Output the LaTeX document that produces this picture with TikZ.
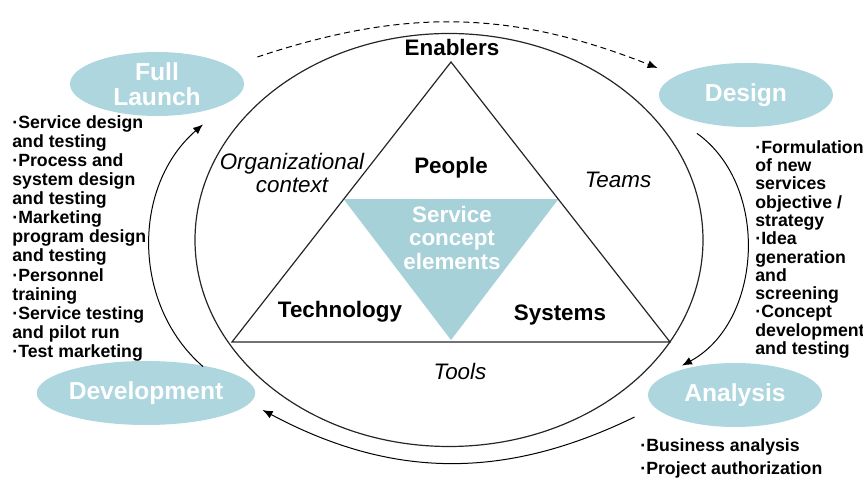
\documentclass[tikz,border=0pt]{standalone}
\usepackage{fontspec}
\setmainfont{Liberation Sans}
\usetikzlibrary{arrows.meta,shapes,positioning,calc}
\definecolor{phaseblue}{RGB}{173,214,222}
\definecolor{conceptblue}{RGB}{166,209,216}

\begin{document}
\begin{tikzpicture}
[x=0.5pt,y=0.5pt,
phase/.style={shape=ellipse,fill=phaseblue,minimum width=87pt,minimum height=32pt,inner sep=0pt,text=white,align=center,font=\fontsize{12.3}{12.5}\selectfont\bfseries},
corner/.style={font=\fontsize{11.2}{13}\selectfont\bfseries},
side/.style={align=center,font=\fontsize{11.2}{11.8}\selectfont\itshape},
steps/.style={align=left,inner sep=0pt,anchor=north west,font=\fontsize{8.85}{9.55}\selectfont\bfseries},
frame/.style={line width=0.6pt,color=black!85},
phasearrow/.style={-{Latex[length=5pt,width=4pt]}, line width=0.5pt}]

\useasboundingbox (0,0) rectangle (863,481);

% triangle of enablers inside the ring
\coordinate (top) at (451,419);
\coordinate (left) at (232,139);
\coordinate (right) at (670,139);
\fill[conceptblue] ($(top)!0.49!(left)$) -- ($(top)!0.49!(right)$) -- ($(left)!0.5!(right)+(0,2)$) -- cycle;
\node (ring) [draw,frame,shape=ellipse,minimum width=254pt,minimum height=206.5pt] at (449,241) {};
\draw[frame] (top) -- (left) -- (right) -- cycle;

\node (enablers) [corner] at (452,433) {Enablers};
\node (people) [corner] at (451,313) {People};
\node (tech) [corner] at (340,169) {Technology};
\node (sys) [corner] at (560,166) {Systems};
\node (org) [side] at (292,308) {Organizational\\context};
\node (teams) [side] at (618,301) {Teams};
\node (tools) [side] at (460,110) {Tools};
\node (concept) [corner,text=white,align=center,font=\fontsize{11.2}{11.75}\selectfont\bfseries] at (452,243) {Service\\concept\\elements};

% development phases
\node (launch) [phase] at (157,397) {Full\\Launch};
\node (design) [phase] at (746,386) {Design};
\node (analysis) [phase] at (735,86) {Analysis};
\node (devel) [phase] at (146,88) {Development};

\node (launchsteps) [steps] at (12,366) {·Service design\\and testing\\·Process and\\system design\\and testing\\·Marketing\\program design\\and testing\\·Personnel\\training\\·Service testing\\and pilot run\\·Test marketing};
\node (designsteps) [steps,font=\fontsize{8.85}{9.15}\selectfont\bfseries] at (755,341) {·Formulation\\of new\\services\\objective /\\strategy\\·Idea\\generation\\and\\screening\\·Concept\\development\\and testing};
\node (analysissteps) [steps,font=\fontsize{8.85}{11.5}\selectfont\bfseries] at (640,43) {·Business analysis\\·Project authorization};

\draw[phasearrow,dash pattern=on 3pt off 2pt] ([shift={(13,27)}]launch.east) to[bend left=20] ([shift={(-1,27)}]design.west);
\draw[phasearrow] ([shift={(-49,-6)}]design.south) to[bend left=58] ([shift={(-53,-3)}]analysis.north);
\draw[phasearrow] ([shift={(-13,-22)}]analysis.west) to[bend left=27] ([shift={(7,-17)}]devel.east);
\draw[phasearrow] ([shift={(57,-6)}]devel.north) to[out=139,in=-139] ([shift={(46,-8)}]launch.south);

\end{tikzpicture}
\end{document}
